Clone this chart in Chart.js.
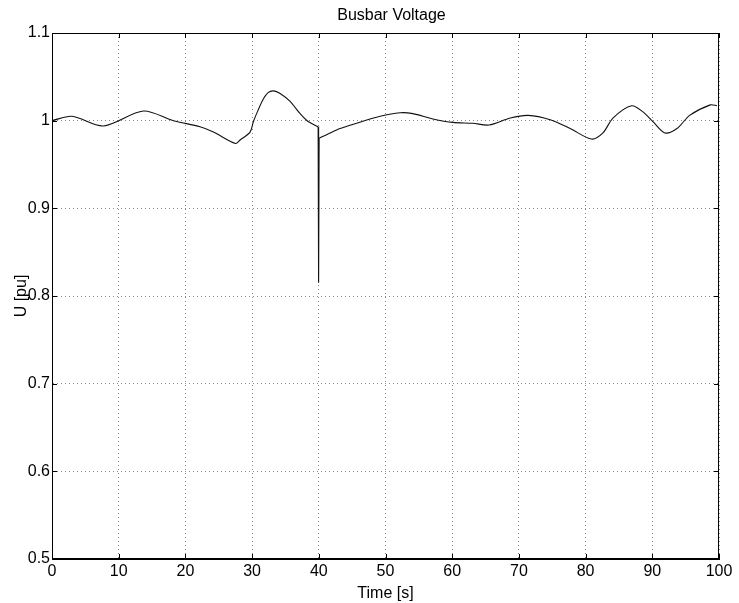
<!DOCTYPE html>
<html>
<head>
<meta charset="utf-8">
<script src="https://cdn.jsdelivr.net/npm/chart.js@4/dist/chart.umd.min.js"></script>
<style>
  html, body { margin: 0; padding: 0; background: #fff; }
  #wrap { width: 739px; height: 603px; }
</style>
</head>
<body>
<div id="wrap"><canvas id="chart" width="739" height="603"></canvas></div>
<script>
// Busbar voltage trace
const times = [0, 3, 7.7, 13.7, 18.2, 22.2, 24.2, 27.5, 28.2, 29.7, 30.2, 30.9, 31.7, 32.4, 33.2, 34.2, 35.7, 37.2, 38.4, 39.9,
  39.97, 40.05, 41.7, 43.2, 45.2, 49.2, 52.2, 54.1, 57.1, 60.1, 63.1, 65.5, 68.7, 71.4, 74.7, 77.7, 80.9, 82.6,
  84.1, 86.9, 88.6, 90.1, 91.9, 93.7, 95.6, 98.7, 99.7];
const voltage = [1.0, 1.005, 0.994, 1.011, 1.0, 0.993, 0.987, 0.974, 0.978, 0.987, 0.999, 1.012, 1.025, 1.032, 1.034, 1.031, 1.022, 1.008, 0.999, 0.993,
  0.815, 0.980, 0.986, 0.991, 0.996, 1.005, 1.009, 1.008, 1.002, 0.998, 0.997, 0.995, 1.003, 1.006, 1.001, 0.991, 0.979, 0.986,
  1.003, 1.017, 1.010, 0.999, 0.986, 0.991, 1.006, 1.018, 1.017];
const xTicks = [0, 10, 20, 30, 40, 50, 60, 70, 80, 90, 100];
const yTicks = [0.5, 0.6, 0.7, 0.8, 0.9, 1.0, 1.1];
const chartTitle = 'Busbar Voltage';
const yTitle = 'U [pu]';

const font = 'Liberation Sans, Arial, Helvetica, sans-serif';

// the dip at 40 s is drawn straight, the rest smooth
const spikeStart = 19, spikeEnd = 21;
const pts = times.map((t, i) => ({ x: t, y: voltage[i] }));
const trace = (data, tension) => ({
  data, tension,
  borderColor: '#111', borderWidth: 1.1, pointRadius: 0, fill: false
});

// titles, box around plot area + inward tick marks (matlab look)
const boxPlugin = {
  id: 'box',
  afterDraw(chart) {
    const { ctx, chartArea: a, scales } = chart;
    ctx.save();
    ctx.fillStyle = '#000';
    ctx.font = '16px ' + font;
    ctx.textAlign = 'center';
    ctx.textBaseline = 'middle';
    ctx.fillText(chartTitle, (a.left + a.right) / 2 + 6, 16);

    ctx.save();
    ctx.translate(26, 296);
    ctx.rotate(-Math.PI / 2);
    ctx.textBaseline = 'alphabetic';
    ctx.fillText(yTitle, 0, 0);
    ctx.restore();

    ctx.strokeStyle = '#000';
    ctx.lineWidth = 1;
    ctx.strokeRect(a.left + 0.5, a.top + 0.5, a.right - a.left - 1, a.bottom - a.top - 1);
    ctx.beginPath();
    xTicks.forEach(v => {
      const x = Math.round(scales.x.getPixelForValue(v)) + 0.5;
      ctx.moveTo(x, a.bottom); ctx.lineTo(x, a.bottom - 5);
      ctx.moveTo(x, a.top); ctx.lineTo(x, a.top + 5);
    });
    yTicks.forEach(v => {
      const y = Math.round(scales.y.getPixelForValue(v)) + 0.5;
      ctx.moveTo(a.left, y); ctx.lineTo(a.left + 5, y);
      ctx.moveTo(a.right, y); ctx.lineTo(a.right - 5, y);
    });
    ctx.stroke();
    ctx.restore();
  }
};

new Chart(document.getElementById('chart'), {
  type: 'line',
  data: {
    datasets: [
      trace(pts.slice(0, spikeStart + 1), 0.3),
      trace(pts.slice(spikeStart, spikeEnd + 1), 0),
      trace(pts.slice(spikeEnd), 0.3)
    ]
  },
  options: {
    responsive: false,
    animation: false,
    layout: { padding: { left: 0, right: 20, top: 33, bottom: 0 } },
    plugins: {
      legend: { display: false },
      tooltip: { enabled: false },
      title: { display: false }
    },
    scales: {
      x: {
        type: 'linear',
        min: 0, max: 100,
        afterBuildTicks: s => { s.ticks = xTicks.map(v => ({ value: v })); },
        afterFit: s => { s.height = 44; },
        ticks: { color: '#000', font: { family: font, size: 16 }, padding: 3, maxRotation: 0 },
        grid: { color: '#888', drawTicks: false, lineWidth: 1 },
        border: { display: true, color: '#000', dash: [1, 3] },
        title: {
          display: true, text: 'Time [s]', color: '#000',
          font: { family: font, size: 16 }, padding: { top: 3, bottom: 0 }
        }
      },
      y: {
        min: 0.5, max: 1.1,
        afterBuildTicks: s => { s.ticks = yTicks.map(v => ({ value: v })); },
        afterFit: s => { s.width = 52; },
        ticks: {
          color: '#000', font: { family: font, size: 16 }, padding: 2,
          callback: v => String(Math.round(v * 10) / 10)
        },
        grid: { color: '#888', drawTicks: false, lineWidth: 1 },
        border: { display: true, color: '#000', dash: [1, 3] }
      }
    }
  },
  plugins: [boxPlugin]
});
</script>
</body>
</html>
